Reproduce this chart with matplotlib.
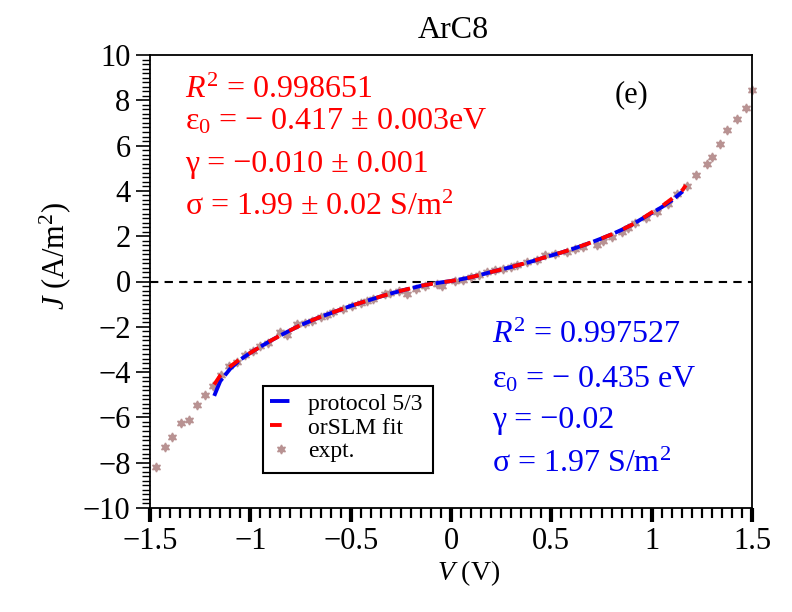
import numpy as np
import matplotlib
matplotlib.use("Agg")
import matplotlib.pyplot as plt
from matplotlib.patches import Rectangle
from matplotlib.ticker import MultipleLocator

""" ArC8 J-V curve: expt points, protocol 5/3 and orSLM fit """

#-- Data
expt_v = [-1.47, -1.425, -1.389, -1.344, -1.304, -1.264, -1.227, -1.185, -1.145,
          -1.105, -1.065, -1.025, -0.985, -0.952, -0.91, -0.852, -0.816, -0.769,
          -0.73, -0.694, -0.65, -0.62, -0.587, -0.54, -0.495, -0.45, -0.42,
          -0.387, -0.33, -0.304, -0.26, -0.221, -0.175, -0.13, -0.072, -0.047,
          0.02, 0.06, 0.10, 0.14, 0.178, 0.22, 0.26, 0.30, 0.327, 0.38, 0.427,
          0.468, 0.52, 0.576, 0.62, 0.66, 0.726, 0.759, 0.80, 0.85, 0.88, 0.917,
          0.97, 1.025, 1.083, 1.125, 1.174, 1.221, 1.277, 1.299, 1.34, 1.374,
          1.423, 1.468, 1.501]
expt_j = [-8.19, -7.31, -6.87, -6.24, -6.12, -5.47, -5.00, -4.63, -4.15,
          -3.72, -3.54, -3.25, -3.05, -2.86, -2.71, -2.24, -2.36, -1.87,
          -1.82, -1.74, -1.55, -1.47, -1.36, -1.20, -1.06, -0.95, -0.86,
          -0.77, -0.55, -0.50, -0.44, -0.53, -0.32, -0.21, -0.13, -0.21,
          0.01, 0.08, 0.20, 0.30, 0.41, 0.50, 0.56, 0.65, 0.71, 0.84, 0.97,
          1.15, 1.22, 1.30, 1.42, 1.52, 1.59, 1.78, 1.98, 2.18, 2.35, 2.57,
          2.80, 3.08, 3.41, 3.85, 4.22, 4.70, 5.18, 5.49, 6.05, 6.67,
          7.17, 7.64, 8.46]

fit_v = [-1.18, -1.15, -1.10, -1.05, -1.00, -0.95, -0.90, -0.85, -0.80, -0.75,
         -0.70, -0.65, -0.60, -0.55, -0.50, -0.45, -0.40, -0.35, -0.30, -0.25,
         -0.20, -0.15, -0.10, -0.05, 0.00, 0.05, 0.10, 0.15, 0.20, 0.25, 0.30,
         0.35, 0.40, 0.45, 0.50, 0.55, 0.60, 0.65, 0.70, 0.75, 0.80, 0.85,
         0.90, 0.95, 1.00, 1.05, 1.10, 1.155, 1.17]
blue_j = [-5.05, -4.40, -3.85, -3.45, -3.15, -2.88, -2.62, -2.38, -2.15, -1.93,
          -1.74, -1.56, -1.40, -1.24, -1.08, -0.94, -0.80, -0.66, -0.53, -0.41,
          -0.30, -0.19, -0.11, -0.04, 0.02, 0.10, 0.19, 0.30, 0.42, 0.53, 0.64,
          0.76, 0.88, 1.02, 1.15, 1.28, 1.42, 1.57, 1.73, 1.90, 2.08, 2.28,
          2.50, 2.76, 3.02, 3.28, 3.58, 3.98, np.nan]
red_j = [-4.55, -4.15, -3.75, -3.42, -3.15, -2.88, -2.62, -2.38, -2.15, -1.93,
         -1.74, -1.56, -1.40, -1.24, -1.08, -0.94, -0.80, -0.66, -0.53, -0.41,
         -0.30, -0.19, -0.11, -0.04, 0.02, 0.10, 0.19, 0.30, 0.42, 0.53, 0.64,
         0.76, 0.88, 1.02, 1.15, 1.28, 1.42, 1.57, 1.73, 1.90, 2.08, 2.28,
         2.50, 2.76, 3.05, 3.32, 3.65, 4.05, 4.25]

red_lines = [r"$R^2$ = 0.998651",
             r"ε$_0$ = − 0.417 ± 0.003eV",
             r"γ = −0.010 ± 0.001",
             r"σ = 1.99 ± 0.02 S/m$^2$"]
blue_lines = [r"$R^2$ = 0.997527",
              r"ε$_0$ = − 0.435 eV",
              r"γ = −0.02",
              r"σ = 1.97 S/m$^2$"]

#-- Style
plt.rcParams['font.family'] = ['Liberation Serif', 'DejaVu Serif']
plt.rcParams['mathtext.fontset'] = 'custom'
plt.rcParams['mathtext.rm'] = 'Liberation Serif'
plt.rcParams['mathtext.it'] = 'Liberation Serif:italic'

W, H = 792, 612
fig = plt.figure(figsize=(W/100, H/100), dpi=100)
ax = fig.add_axes([150/W, 1-508/H, 602/W, 453/H])

ax.axhline(0, color='black', lw=1.5, dashes=(4, 3), zorder=1)
ax.plot(expt_v, expt_j, ls='none', marker=(6, 1, 0), ms=6.5, color='#b89292',
        mec='#b89292', mew=1, label='expt.', clip_on=False, zorder=2)
ax.plot(fit_v, blue_j, color='#0000ee', lw=2.8, dashes=(5, 1),
        label='protocol 5/3', zorder=3)
ax.plot(fit_v, red_j, color='#ff0000', lw=2.8, dashes=(3, 3),
        label='orSLM fit', zorder=4)

ax.set_xlim(-1.5, 1.5)
ax.set_ylim(-10, 10)
ax.xaxis.set_major_locator(MultipleLocator(0.5))
ax.xaxis.set_minor_locator(MultipleLocator(0.05))
ax.yaxis.set_major_locator(MultipleLocator(2))
ax.yaxis.set_minor_locator(MultipleLocator(0.2))
ax.set_xticks([-1.5, -1, -0.5, 0, 0.5, 1, 1.5])
ax.set_xticklabels(['−1.5', '−1', '−0.5', '0', '0.5', '1', '1.5'])

ax.tick_params(axis='x', which='major', direction='out', length=10, width=3,
               labelsize=22, pad=4)
ax.tick_params(axis='x', which='minor', direction='out', length=7, width=1.6)
ax.tick_params(axis='y', which='major', direction='out', length=10, width=1.2,
               labelsize=22, pad=4)
ax.tick_params(axis='y', which='minor', direction='out', length=6, width=1)
for s in ax.spines.values():
    s.set_linewidth(1.3)

ax.set_xlabel(r"$V$ (V)", fontsize=20, va='baseline')
ax.xaxis.set_label_coords((469-150)/602, (508-580)/453)
ax.set_ylabel(r"$J$ (A/m$^2$)", fontsize=22, va='center')
ax.yaxis.set_label_coords((55-150)/602, (508-256)/453)

fig.text(453/W, 1-38/H, "ArC8", fontsize=23, ha='center', va='baseline')
fig.text(632/W, 1-102/H, "(e)", fontsize=22, ha='center', va='baseline')

for txt, y in zip(red_lines, [98, 130, 172, 215]):
    fig.text(185/W, 1-y/H, txt, fontsize=23, color='#ff0000', va='baseline')
for txt, y in zip(blue_lines, [343, 387, 428, 472]):
    fig.text(492/W, 1-y/H, txt, fontsize=23, color='#0000ee', va='baseline')

# legend box drawn by hand, entries without frame inside it
bx0, by0 = (263-150)/602, (508-473)/453
bw, bh = (433-263)/602, (473-386)/453
ax.add_patch(Rectangle((bx0, by0), bw, bh, transform=ax.transAxes,
                       facecolor='white', edgecolor='black', lw=1.5, zorder=5))
h, l = ax.get_legend_handles_labels()
order = [1, 2, 0]
leg = ax.legend([h[i] for i in order], [l[i] for i in order],
                loc='upper left', bbox_to_anchor=(bx0, by0 + bh),
                fontsize=17, frameon=False,
                handlelength=0.9, handletextpad=0.7, borderpad=0.3,
                labelspacing=0.1, borderaxespad=0)
leg.set_zorder(6)

fig.savefig("out.png", dpi=100)
